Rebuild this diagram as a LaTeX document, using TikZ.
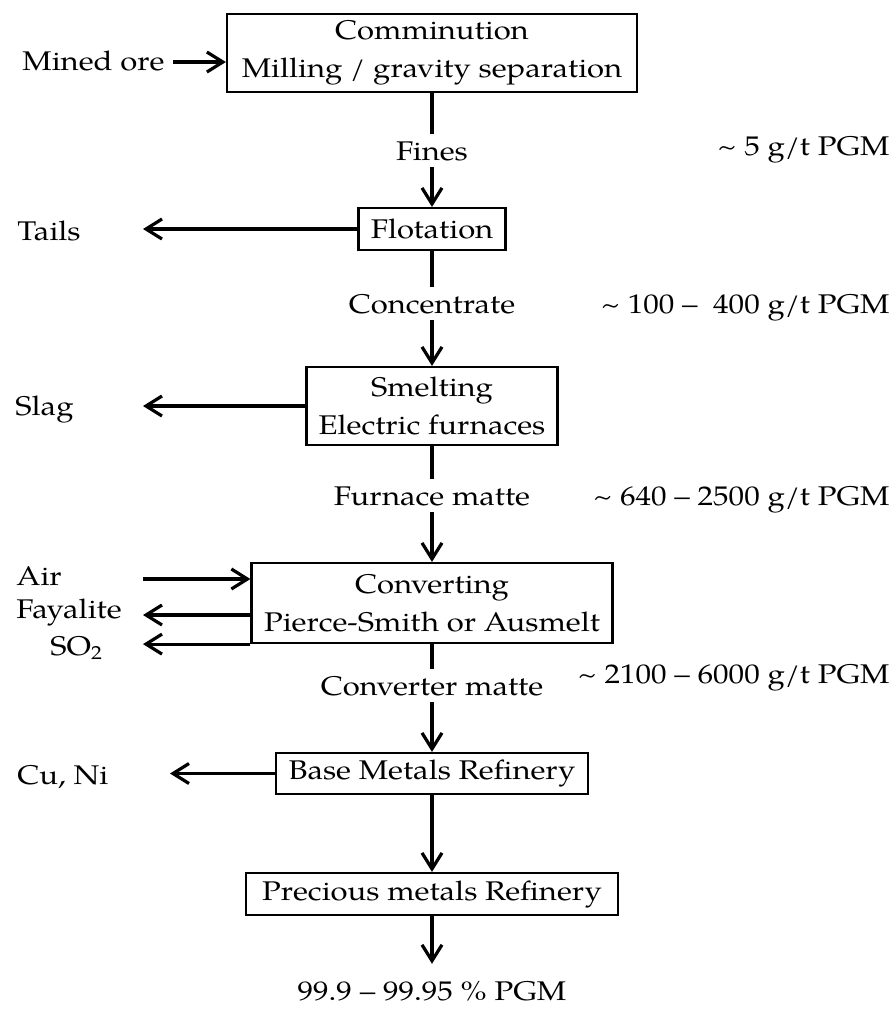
\documentclass[tikz,border=0pt]{standalone}
\usepackage{fontspec}
\setmainfont{TeX Gyre Pagella}[FakeStretch=1.15]
\usetikzlibrary{arrows.meta,positioning,calc}

\begin{document}
\begin{tikzpicture}[x=0.5pt,y=-0.5pt,
    every node/.style={font=\fontsize{13.5}{19}\selectfont,align=center},
    unit/.style={draw,line width=1.1pt,inner sep=2pt},
    stream/.style={anchor=base,text height=9.4pt,text depth=0pt,inner xsep=2pt,inner ysep=3.5pt},
    grade/.style={anchor=base east,inner sep=0pt},
    side/.style={anchor=base west,inner sep=0pt},
    flow/.style={line width=1.6pt},
    feed/.style={flow,-{Straight Barb[length=8pt,width=10pt]}}]
  \useasboundingbox (0,0) rectangle (896,1009);

  % process units
  \node[unit,minimum width=205pt,minimum height=39pt] (comm) at (432,53) {Comminution\\Milling / gravity separation};
  \node[unit,minimum width=73.5pt,minimum height=21pt] (flot) at (432,229) {Flotation};
  \node[unit,minimum width=125.5pt,minimum height=39pt] (smelt) at (432,406) {Smelting\\Electric furnaces};
  \node[unit,minimum width=180.5pt,minimum height=40pt] (conv) at (432,603) {Converting\\Pierce-Smith or Ausmelt};
  \node[unit,minimum width=156pt,minimum height=20.5pt] (bmr) at (432,773.5) {Base Metals Refinery};
  \node[unit,minimum width=186pt,minimum height=21pt] (pmr) at (432,894) {Precious metals Refinery};

  % intermediate streams
  \node[stream] (fines) at (432,160) {Fines};
  \node[stream] (conc) at (432,313) {Concentrate};
  \node[stream] (fmatte) at (432,505) {Furnace matte};
  \node[stream] (cmatte) at (432,695) {Converter matte};
  \node[stream] (purity) at (432,1000) {99.9 – 99.95 \% PGM};

  % grades
  \node[grade] (gfines) at (890,155) {\textasciitilde{} 5 g/t PGM};
  \node[grade] (gconc) at (890,313) {\textasciitilde{} 100 –\ \ 400 g/t PGM};
  \node[grade] (gfmatte) at (890,505) {\textasciitilde{} 640 – 2500 g/t PGM};
  \node[grade] (gcmatte) at (890,683) {\textasciitilde{} 2100 – 6000 g/t PGM};

  % feeds and products on the left
  \node[side] (ore) at (22,70) {Mined ore};
  \node[side] (tails) at (17,240) {Tails};
  \node[side] (slag) at (15,415) {Slag};
  \node[side] (air) at (16,585) {Air};
  \node[side] (faya) at (16,618) {Fayalite};
  \node[side] (so2) at (50,655) {SO\textsubscript{2}};
  \node[side] (cuni) at (17,784) {Cu, Ni};
  \coordinate (orein) at (173,62);
  \coordinate (outlet) at (143,0);
  \coordinate (cuout) at (170,0);
  \coordinate (airin) at (143,579);
  \coordinate (fayout) at (143,615);

  % main line
  \draw[flow] (comm) -- (fines);
  \draw[feed] (fines) -- (flot);
  \draw[flow] (flot) -- (conc);
  \draw[feed] (conc) -- (smelt);
  \draw[flow] (smelt) -- (fmatte);
  \draw[feed] (fmatte) -- (conv);
  \draw[flow] (conv) -- (cmatte);
  \draw[feed] (cmatte) -- (bmr);
  \draw[feed] (bmr) -- (pmr);
  \draw[feed,shorten >=5pt] (pmr) -- (purity);

  % side streams
  \draw[feed] (orein) -- (orein -| comm.west);
  \draw[feed] (flot.west) -- (flot.west -| outlet);
  \draw[feed] (smelt.west) -- (smelt.west -| outlet);
  \draw[feed] (airin) -- (airin -| conv.west);
  \draw[feed] (fayout -| conv.west) -- (fayout);
  \draw[feed] (conv.south west) -- (conv.south west -| outlet);
  \draw[feed] (bmr.west) -- (bmr.west -| cuout);
\end{tikzpicture}
\end{document}
